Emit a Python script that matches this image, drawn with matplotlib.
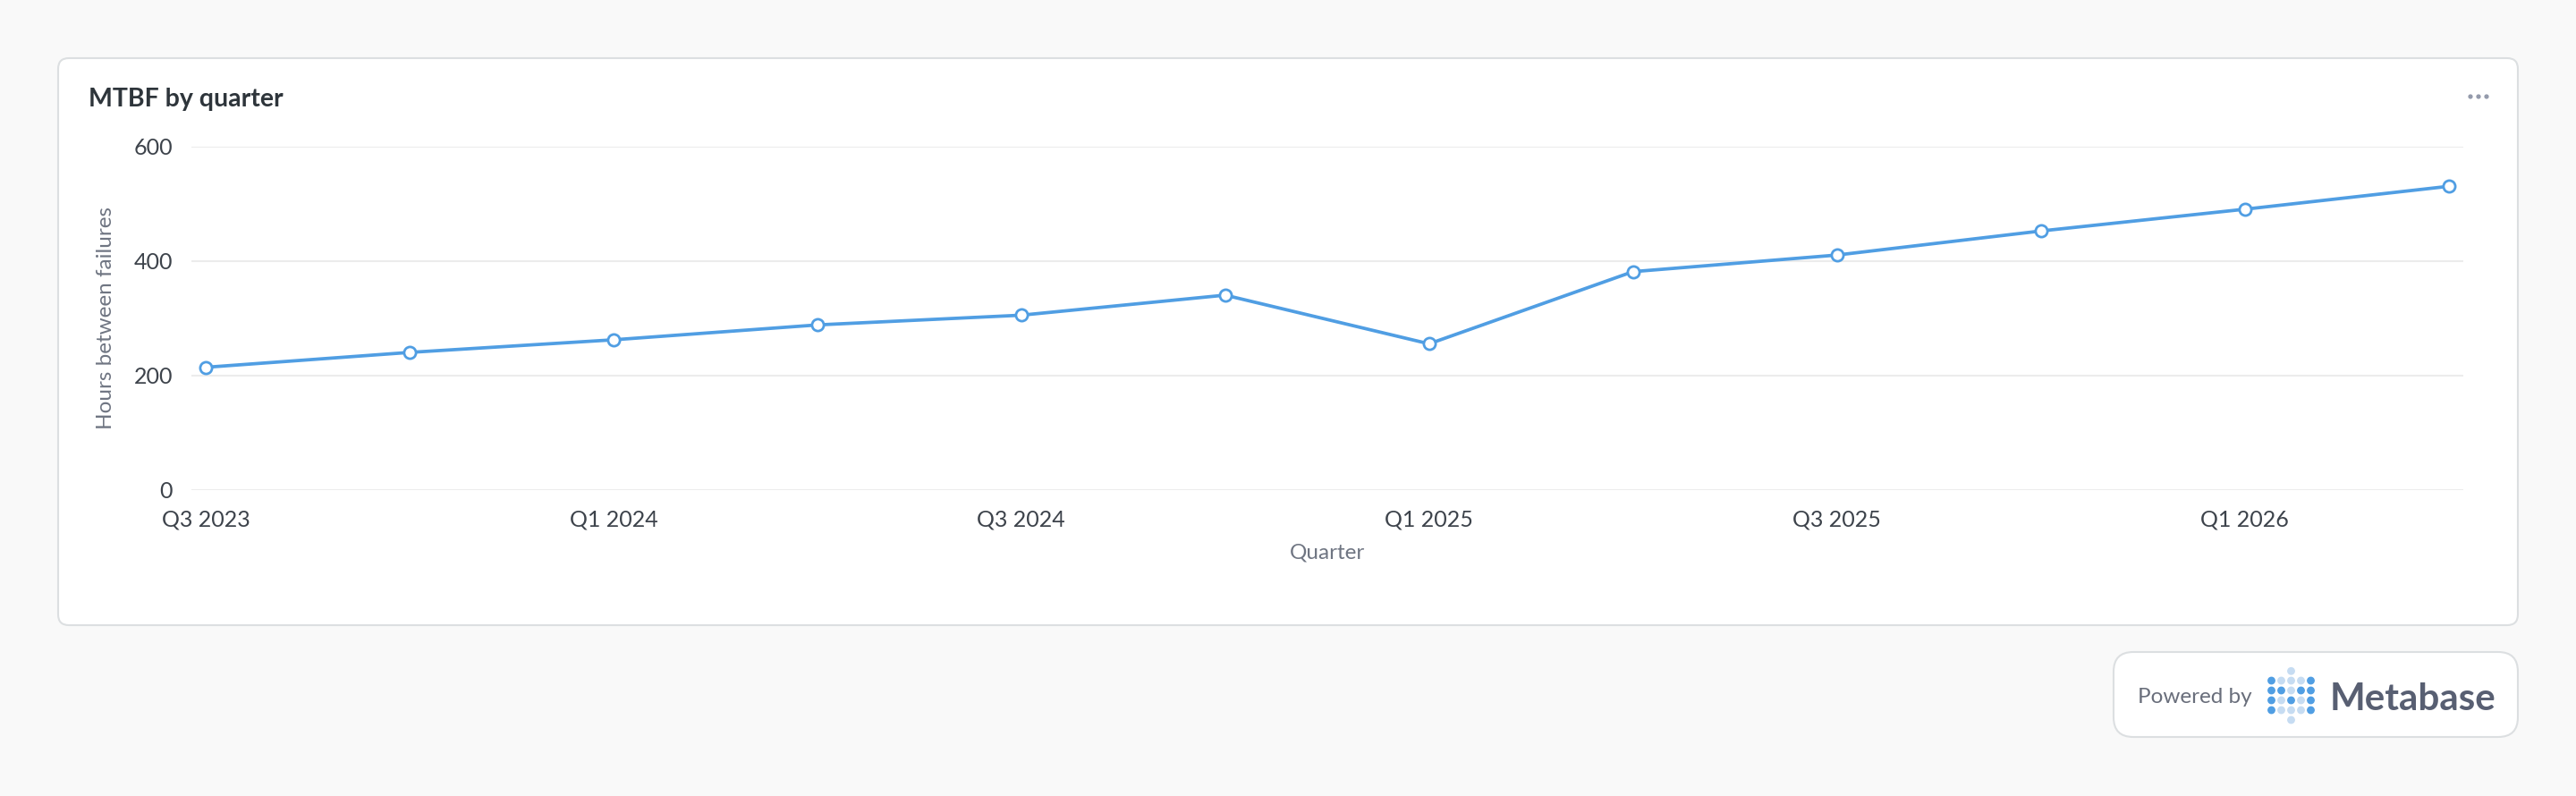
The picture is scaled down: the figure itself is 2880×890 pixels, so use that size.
import matplotlib
matplotlib.use('Agg')
import matplotlib.pyplot as plt
from matplotlib.patches import FancyBboxPatch, Circle

plt.rcParams['font.family'] = ['Lato', 'DejaVu Sans']

quarters = ['Q3 2023', 'Q4 2023', 'Q1 2024', 'Q2 2024', 'Q3 2024', 'Q4 2024',
            'Q1 2025', 'Q2 2025', 'Q3 2025', 'Q4 2025', 'Q1 2026', 'Q2 2026']
mtbf_hours = [214, 240, 262, 288, 305, 340, 255, 381, 410, 452, 490, 530]
y_ticks = [0, 200, 400, 600]

BLUE = '#509ee3'
W, H = 2880, 890

fig = plt.figure(figsize=(W / 100, H / 100), dpi=100)
fig.patch.set_facecolor('#f9f9f9')

# background layer in pixel units: card, title, badge
bg = fig.add_axes([0, 0, 1, 1], zorder=0)
bg.set_xlim(0, W)
bg.set_ylim(H, 0)
bg.axis('off')

card = FancyBboxPatch((65, 65), 2750, 634, boxstyle='round,pad=0,rounding_size=12',
                      facecolor='white', edgecolor='#dcdfe1', linewidth=1.5)
bg.add_patch(card)
bg.text(99, 119, 'MTBF by quarter', fontsize=20.5, fontweight='bold',
        color='#2e353b', va='baseline', ha='left')
# "more" menu dots
for dx in (2762, 2771, 2780):
    bg.add_patch(Circle((dx, 108), 1.9, color='#949aab'))

badge = FancyBboxPatch((2363, 729), 452, 95, boxstyle='round,pad=0,rounding_size=22',
                       facecolor='white', edgecolor='#dcdfe1', linewidth=1.5)
bg.add_patch(badge)
bg.text(2390, 779, 'Powered by', fontsize=17.5, color='#696e7b', ha='left', va='center')
bg.text(2605, 794, 'Metabase', fontsize=30.3, fontweight='bold', color='#585f72',
        ha='left', va='baseline')

# logo dots
dark, light = '#509ee3', '#c6dcf2'
logo = ['DLLLD', 'DDLDD', 'DLDLD', 'DLLLD']
cols_x = [2539.5, 2550.5, 2561.5, 2572.5, 2583.5]
rows_y = [761, 772, 783, 794]
for r, row in enumerate(logo):
    for c, ch in enumerate(row):
        bg.add_patch(Circle((cols_x[c], rows_y[r]), 3.7, color=dark if ch == 'D' else light))
bg.add_patch(Circle((cols_x[2], 750.3), 3.7, color=light))
bg.add_patch(Circle((cols_x[2], 805), 3.7, color=light))

# chart
ax = fig.add_axes([214 / W, 1 - 547.7 / H, 2540 / W, 384.2 / H], zorder=1)
ax.set_facecolor('none')
x = list(range(len(quarters)))
ax.plot(x, mtbf_hours, color=BLUE, linewidth=2.7, marker='o', markersize=9.5,
        markerfacecolor='white', markeredgecolor=BLUE, markeredgewidth=2.0, zorder=3)

ax.set_xlim(-0.07, len(quarters) - 1 + 0.072)
ax.set_ylim(0, 600)
ax.set_yticks(y_ticks)
ax.set_xticks(x[::2])
ax.set_xticklabels(quarters[::2])
ax.grid(axis='y', color='#ececec', linewidth=1.5)
ax.set_axisbelow(True)
for s in ax.spines.values():
    s.set_visible(False)
ax.tick_params(axis='both', length=0, labelsize=18, labelcolor='#3d434b')
ax.tick_params(axis='y', pad=15)
ax.tick_params(axis='x', pad=16)

ax.set_ylabel('Hours between failures', fontsize=17.5, color='#6f7582')
ax.yaxis.set_label_coords(-0.0335, 0.5)
ax.set_xlabel('Quarter', fontsize=17.5, color='#6f7582')
ax.xaxis.set_label_coords(0.5, -0.155)

fig.savefig('out.png', dpi=100, facecolor=fig.get_facecolor())
